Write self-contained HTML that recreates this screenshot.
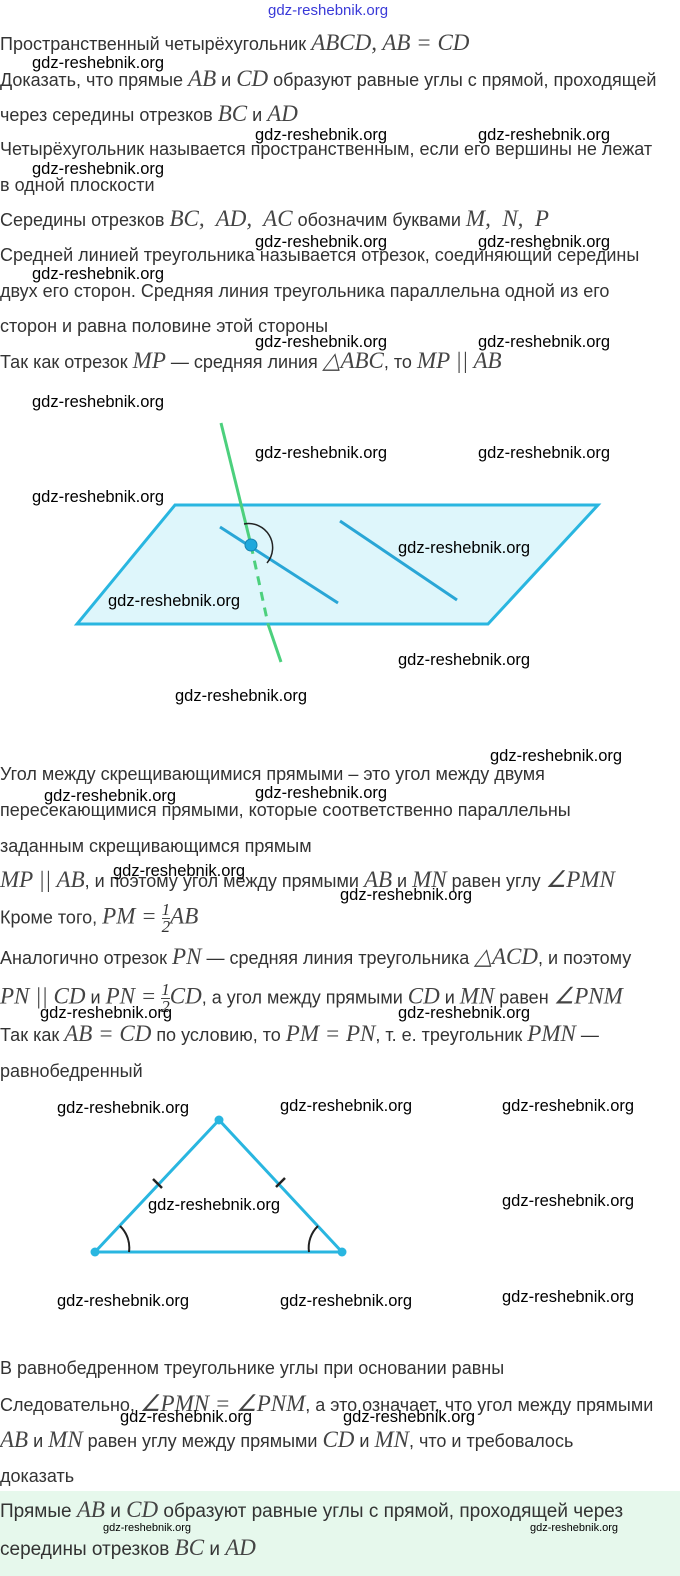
<!DOCTYPE html>
<html><head><meta charset="utf-8"><style>
body{margin:0;width:680px;height:1576px;background:#fff;position:relative;overflow:hidden;font-family:"Liberation Sans",sans-serif;}
.t{position:absolute;left:0;font-size:18px;color:#333;white-space:nowrap;line-height:22px;}
.m{font-family:"Liberation Serif",serif;font-style:italic;font-size:23px;color:#444;}
.w{position:absolute;font-size:16.5px;color:#000;white-space:nowrap;line-height:18px;}
.f{display:inline-block;vertical-align:middle;text-align:center;font-family:"Liberation Serif",serif;font-style:italic;font-size:17px;line-height:16px;}
</style></head><body>
<div class="w" style="left:268px;top:2px;color:#3a3ad8;font-size:15px;">gdz-reshebnik.org</div>
<div class="t" style="top:32px">Пространственный четырёхугольник <span class="m">ABCD, AB = CD</span></div>
<div class="t" style="top:68px">Доказать, что прямые <span class="m">AB</span> и <span class="m">CD</span> образуют равные углы с прямой, проходящей</div>
<div class="t" style="top:103px">через середины отрезков <span class="m">BC</span> и <span class="m">AD</span></div>
<div class="t" style="top:138px">Четырёхугольник называется пространственным, если его вершины не лежат</div>
<div class="t" style="top:174px">в одной плоскости</div>
<div class="t" style="top:208px">Середины отрезков <span class="m">BC,&nbsp; AD,&nbsp; AC</span> обозначим буквами <span class="m">M,&nbsp; N,&nbsp; P</span></div>
<div class="t" style="top:244px">Средней линией треугольника называется отрезок, соединяющий середины</div>
<div class="t" style="top:280px">двух его сторон. Средняя линия треугольника параллельна одной из его</div>
<div class="t" style="top:315px">сторон и равна половине этой стороны</div>
<div class="t" style="top:350px">Так как отрезок <span class="m">MP</span> — средняя линия <span class="m">△ABC</span>, то <span class="m">MP || AB</span></div>

<svg style="position:absolute;left:0;top:0" width="680" height="1576">
<polygon points="175,505 598,505 488,624 77,624" fill="#def6fb" stroke="#29b6e0" stroke-width="3"/>
<line x1="221" y1="423" x2="251" y2="545" stroke="#4cd07d" stroke-width="3"/>
<line x1="251" y1="545" x2="268" y2="624" stroke="#4cd07d" stroke-width="3" stroke-dasharray="9,7"/>
<line x1="268" y1="624" x2="281" y2="662" stroke="#4cd07d" stroke-width="3"/>
<line x1="220" y1="527" x2="338" y2="603" stroke="#29a6d6" stroke-width="3"/>
<line x1="340" y1="521" x2="457" y2="600" stroke="#29a6d6" stroke-width="3"/>
<path d="M 244,524 A 24 24 0 0 1 267,563" fill="none" stroke="#222" stroke-width="1.5"/>
<circle cx="251" cy="545" r="6" fill="#1fa8dc" stroke="#1583b0" stroke-width="1"/>
<polygon points="219,1120 95,1252 342,1252" fill="none" stroke="#29b6e0" stroke-width="3"/>
<line x1="153" y1="1179" x2="162" y2="1188" stroke="#222" stroke-width="2.5"/>
<line x1="276" y1="1187" x2="285" y2="1178" stroke="#222" stroke-width="2.5"/>
<path d="M 120,1226 A 30 30 0 0 1 129,1252" fill="none" stroke="#222" stroke-width="2"/>
<path d="M 318,1226 A 30 30 0 0 0 309,1252" fill="none" stroke="#222" stroke-width="2"/>
<circle cx="219" cy="1120" r="4.5" fill="#29b6e0"/>
<circle cx="95" cy="1252" r="4.5" fill="#29b6e0"/>
<circle cx="342" cy="1252" r="4.5" fill="#29b6e0"/>
</svg>

<div class="t" style="top:763px">Угол между скрещивающимися прямыми – это угол между двумя</div>
<div class="t" style="top:799px">пересекающимися прямыми, которые соответственно параллельны</div>
<div class="t" style="top:835px">заданным скрещивающимся прямым</div>
<div class="t" style="top:869px"><span class="m">MP || AB</span>, и поэтому угол между прямыми <span class="m">AB</span> и <span class="m">MN</span> равен углу <span class="m">∠PMN</span></div>
<div class="t" style="top:902px">Кроме того, <span class="m">PM =</span> <span class="f">1<br><span style="border-top:1px solid #444;display:block">2</span></span><span class="m">AB</span></div>
<div class="t" style="top:946px">Аналогично отрезок <span class="m">PN</span> — средняя линия треугольника <span class="m">△ACD</span>, и поэтому</div>
<div class="t" style="top:982px"><span class="m">PN || CD</span> и <span class="m">PN =</span> <span class="f">1<br><span style="border-top:1px solid #444;display:block">2</span></span><span class="m">CD</span>, а угол между прямыми <span class="m">CD</span> и <span class="m">MN</span> равен <span class="m">∠PNM</span></div>
<div class="t" style="top:1023px">Так как <span class="m">AB = CD</span> по условию, то <span class="m">PM = PN</span>, т. е. треугольник <span class="m">PMN</span> —</div>
<div class="t" style="top:1060px">равнобедренный</div>
<div class="t" style="top:1357px">В равнобедренном треугольнике углы при основании равны</div>
<div class="t" style="top:1393px">Следовательно, <span class="m">∠PMN = ∠PNM</span>, а это означает, что угол между прямыми</div>
<div class="t" style="top:1429px"><span class="m">AB</span> и <span class="m">MN</span> равен углу между прямыми <span class="m">CD</span> и <span class="m">MN</span>, что и требовалось</div>
<div class="t" style="top:1465px">доказать</div>
<div style="position:absolute;left:0;top:1491px;width:680px;height:85px;background:#e6f8ec"></div>
<div class="t" style="top:1499px;font-size:19px">Прямые <span class="m">AB</span> и <span class="m">CD</span> образуют равные углы с прямой, проходящей через</div>
<div class="t" style="top:1537px;font-size:19px">середины отрезков <span class="m">BC</span> и <span class="m">AD</span></div>
<div class="w" style="left:103px;top:1519px;font-size:11px">gdz-reshebnik.org</div>
<div class="w" style="left:530px;top:1519px;font-size:11px">gdz-reshebnik.org</div>

<div class="w" style="left:32px;top:54px">gdz-reshebnik.org</div>
<div class="w" style="left:255px;top:126px">gdz-reshebnik.org</div>
<div class="w" style="left:478px;top:126px">gdz-reshebnik.org</div>
<div class="w" style="left:32px;top:160px">gdz-reshebnik.org</div>
<div class="w" style="left:255px;top:233px">gdz-reshebnik.org</div>
<div class="w" style="left:478px;top:233px">gdz-reshebnik.org</div>
<div class="w" style="left:32px;top:265px">gdz-reshebnik.org</div>
<div class="w" style="left:255px;top:333px">gdz-reshebnik.org</div>
<div class="w" style="left:478px;top:333px">gdz-reshebnik.org</div>
<div class="w" style="left:32px;top:393px">gdz-reshebnik.org</div>
<div class="w" style="left:255px;top:444px">gdz-reshebnik.org</div>
<div class="w" style="left:478px;top:444px">gdz-reshebnik.org</div>
<div class="w" style="left:32px;top:488px">gdz-reshebnik.org</div>
<div class="w" style="left:398px;top:539px">gdz-reshebnik.org</div>
<div class="w" style="left:108px;top:592px">gdz-reshebnik.org</div>
<div class="w" style="left:398px;top:651px">gdz-reshebnik.org</div>
<div class="w" style="left:175px;top:687px">gdz-reshebnik.org</div>
<div class="w" style="left:490px;top:747px">gdz-reshebnik.org</div>
<div class="w" style="left:255px;top:784px">gdz-reshebnik.org</div>
<div class="w" style="left:44px;top:787px">gdz-reshebnik.org</div>
<div class="w" style="left:113px;top:862px">gdz-reshebnik.org</div>
<div class="w" style="left:340px;top:886px">gdz-reshebnik.org</div>
<div class="w" style="left:40px;top:1004px">gdz-reshebnik.org</div>
<div class="w" style="left:398px;top:1004px">gdz-reshebnik.org</div>
<div class="w" style="left:57px;top:1099px">gdz-reshebnik.org</div>
<div class="w" style="left:280px;top:1097px">gdz-reshebnik.org</div>
<div class="w" style="left:502px;top:1097px">gdz-reshebnik.org</div>
<div class="w" style="left:148px;top:1196px">gdz-reshebnik.org</div>
<div class="w" style="left:502px;top:1192px">gdz-reshebnik.org</div>
<div class="w" style="left:57px;top:1292px">gdz-reshebnik.org</div>
<div class="w" style="left:280px;top:1292px">gdz-reshebnik.org</div>
<div class="w" style="left:502px;top:1288px">gdz-reshebnik.org</div>
<div class="w" style="left:120px;top:1408px">gdz-reshebnik.org</div>
<div class="w" style="left:343px;top:1408px">gdz-reshebnik.org</div>
</body></html>
